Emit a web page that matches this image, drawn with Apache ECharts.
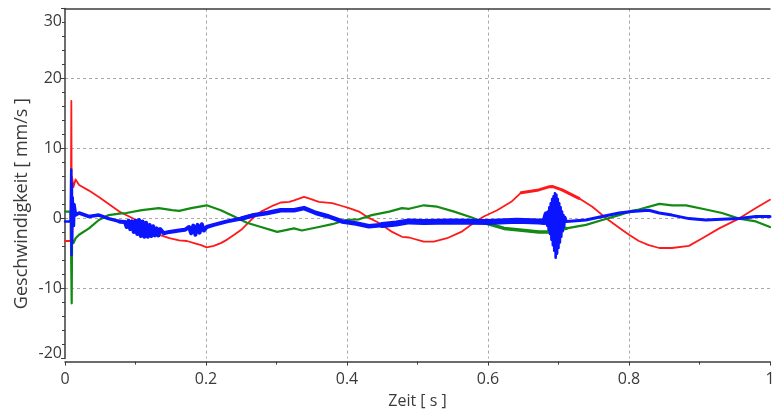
<!DOCTYPE html>
<html>
<head>
<meta charset="utf-8">
<script src="https://cdn.jsdelivr.net/npm/echarts@6/dist/echarts.min.js"></script>
<style>
  html, body { margin: 0; padding: 0; background: #ffffff; }
  #chart { width: 772px; height: 412px; }
</style>
</head>
<body>
<div id="chart"></div>
<script>
// Axis tick values
const xTicks = [0, 0.2, 0.4, 0.6, 0.8, 1];
const yTicks = [-20, -10, 0, 10, 20, 30];

// Velocity traces: [time in s, velocity in mm/s]
const redTrace = [
  [0, -3.2], [0.008, -3.2], [0.009, 16.8], [0.0095, 3.5], [0.010, 6.0], [0.012, 4.5],
  [0.015, 5.6], [0.020, 4.8], [0.034, 4.0], [0.048, 3.1], [0.062, 2.1], [0.077, 1.0],
  [0.091, 0.3], [0.101, -0.2], [0.119, -1.5], [0.133, -2.3], [0.148, -2.8], [0.162, -3.1],
  [0.173, -3.2], [0.183, -3.5], [0.193, -3.8], [0.201, -4.1], [0.211, -3.9], [0.221, -3.5],
  [0.230, -3.0], [0.240, -2.3], [0.250, -1.6], [0.257, -0.9], [0.268, 0.2], [0.278, 1.0],
  [0.296, 1.9], [0.306, 2.3], [0.318, 2.4], [0.325, 2.6], [0.339, 3.1], [0.346, 2.9],
  [0.360, 2.4], [0.379, 2.2], [0.393, 1.8], [0.403, 1.5], [0.417, 1.0], [0.431, 0.1],
  [0.445, -0.6], [0.464, -1.9], [0.478, -2.6], [0.488, -2.7], [0.509, -3.3], [0.523, -3.3],
  [0.542, -2.8], [0.562, -1.9], [0.580, -0.6], [0.594, 0.3], [0.613, 1.2], [0.633, 2.4],
  [0.647, 3.7], [0.672, 4.1], [0.685, 4.5], [0.691, 4.6], [0.697, 4.4], [0.705, 4.1],
  [0.729, 2.9], [0.748, 1.7], [0.767, 0.1], [0.786, -1.3], [0.800, -2.3], [0.814, -3.2],
  [0.828, -3.8], [0.843, -4.2], [0.861, -4.2], [0.885, -3.9], [0.904, -2.8], [0.928, -1.4],
  [0.956, 0.0], [0.980, 1.5], [1.0, 2.7]
];

const greenTrace = [
  [0, 1.0], [0.008, 1.0], [0.0095, -12.1], [0.010, -3.0], [0.012, -3.5], [0.015, -2.8],
  [0.020, -2.3], [0.034, -1.4], [0.048, -0.2], [0.062, 0.5], [0.077, 0.7], [0.087, 0.8],
  [0.109, 1.2], [0.133, 1.5], [0.152, 1.2], [0.162, 1.1], [0.179, 1.5], [0.201, 1.9],
  [0.221, 1.2], [0.240, 0.3], [0.258, -0.6], [0.278, -1.2], [0.301, -1.9], [0.325, -1.4],
  [0.336, -1.7], [0.360, -1.2], [0.379, -0.8], [0.399, -0.2], [0.417, -0.1], [0.435, 0.5],
  [0.460, 1.0], [0.478, 1.5], [0.488, 1.4], [0.509, 1.9], [0.528, 1.7], [0.552, 1.0],
  [0.576, 0.2], [0.599, -0.7], [0.623, -1.4], [0.641, -1.6], [0.672, -1.9], [0.687, -1.9],
  [0.711, -1.4], [0.739, -0.9], [0.762, -0.2], [0.786, 0.5], [0.804, 1.1], [0.814, 1.3],
  [0.843, 2.1], [0.861, 1.9], [0.881, 1.9], [0.909, 1.3], [0.932, 0.8], [0.956, 0.0],
  [0.980, -0.4], [1.0, -1.2]
];

const blueTrace = [
  [0, -0.4], [0.008, -0.4], [0.0088, 7.0], [0.0093, -5.2], [0.0098, 5.0], [0.0103, -3.5],
  [0.011, 3.0], [0.012, -1.0], [0.0128, 2.0], [0.015, 0.5], [0.020, 0.8], [0.034, 0.3],
  [0.048, 0.5], [0.062, 0.0], [0.077, -0.4], [0.085, -0.5], [0.0875, -1.2], [0.090, -0.3],
  [0.0925, -1.5], [0.095, -0.4], [0.0975, -1.9], [0.100, -0.3], [0.1025, -2.2], [0.105, -0.2],
  [0.1075, -2.5], [0.110, -0.4], [0.1125, -2.6], [0.115, -0.6], [0.1175, -2.6], [0.120, -0.9],
  [0.1225, -2.5], [0.125, -1.1], [0.1275, -2.4], [0.130, -1.4], [0.1325, -2.4], [0.135, -1.5],
  [0.140, -2.1], [0.148, -1.9], [0.162, -1.7], [0.170, -1.6], [0.176, -1.2], [0.179, -2.1],
  [0.182, -1.0], [0.185, -2.3], [0.188, -0.9], [0.191, -2.0], [0.194, -0.8], [0.197, -1.7],
  [0.201, -1.2], [0.211, -0.9], [0.230, -0.4], [0.250, 0.0], [0.268, 0.5], [0.287, 0.8],
  [0.306, 1.2], [0.325, 1.2], [0.339, 1.5], [0.356, 0.8], [0.374, 0.3], [0.393, -0.4],
  [0.413, -0.7], [0.431, -1.1], [0.450, -0.9], [0.470, -0.7], [0.488, -0.4], [0.509, -0.5],
  [0.550, -0.4], [0.600, -0.5], [0.641, -0.3], [0.672, -0.4], [0.680, -0.5], [0.683, 0.6],
  [0.684, -1.0], [0.685, 1.0], [0.686, -1.6], [0.687, 1.6], [0.688, -2.2], [0.689, 2.2],
  [0.690, -3.0], [0.691, 2.8], [0.692, -3.8], [0.693, 3.2], [0.694, -4.6], [0.695, 3.6],
  [0.696, -5.6], [0.697, 3.4], [0.698, -5.0], [0.699, 2.8], [0.700, -4.2], [0.701, 2.2],
  [0.702, -3.4], [0.703, 1.6], [0.704, -2.6], [0.705, 1.0], [0.706, -1.8], [0.707, 0.5],
  [0.708, -1.2], [0.709, 0.2], [0.711, -0.4], [0.739, -0.2], [0.762, 0.3], [0.786, 0.8],
  [0.804, 1.0], [0.828, 1.2], [0.843, 0.8], [0.861, 0.5], [0.885, 0.0], [0.909, -0.2],
  [0.932, -0.1], [0.956, 0.0], [0.980, 0.3], [1.0, 0.3]
];

const axisColor = '#3c3c3c';
const labelColor = '#3a3a3a';
const gridColor = '#a8a8a8';
const fontFamily = '"Open Sans", "Noto Sans", sans-serif';

const chart = echarts.init(document.getElementById('chart'), null, { renderer: 'canvas' });

// Stroke a trace piecewise so that noisy stretches get a wider pen.
// Each band: [t0, t1, width]; every piece also takes the neighbouring
// point on either side so the pieces join without gaps.
function tracePieces(data, color, bands) {
  return bands.map(([t0, t1, w]) => {
    let first = data.findIndex(p => p[0] >= t0);
    let last = data.length - 1;
    for (let i = data.length - 1; i >= 0; i--) {
      if (data[i][0] <= t1) { last = i; break; }
    }
    first = Math.max(0, first - 1);
    last = Math.min(data.length - 1, last + 1);
    return {
      type: 'line',
      data: data.slice(first, last + 1),
      showSymbol: false,
      symbol: 'none',
      animation: false,
      silent: true,
      lineStyle: { color: color, width: w, cap: 'round', join: 'round' }
    };
  });
}

const tickFont = { color: labelColor, fontSize: 16, fontFamily: fontFamily };

chart.setOption({
  animation: false,
  backgroundColor: '#ffffff',
  grid: { left: 65, right: 2, top: 8.6, bottom: 53.4, outerBoundsMode: 'none', containLabel: false },
  xAxis: [{
    type: 'value',
    min: xTicks[0],
    max: xTicks[xTicks.length - 1],
    interval: 0.2,
    offset: 3,
    name: 'Zeit [ s ]',
    nameLocation: 'middle',
    nameGap: 32,
    nameTextStyle: tickFont,
    axisLine: { show: true, onZero: false, lineStyle: { color: axisColor, width: 1.5 } },
    axisTick: { show: true, inside: false, length: 4, lineStyle: { color: axisColor } },
    minorTick: { show: true, splitNumber: 2, length: 3, lineStyle: { color: axisColor } },
    axisLabel: Object.assign({ margin: 10, formatter: v => String(v) }, tickFont),
    splitLine: {
      show: true, showMinLine: false, showMaxLine: false,
      lineStyle: { color: gridColor, type: [3, 3], width: 1 }
    }
  }, {
    type: 'value',
    position: 'top',
    min: 0, max: 1,
    axisLine: { show: true, onZero: false, lineStyle: { color: axisColor, width: 1.5 } },
    axisTick: { show: false },
    axisLabel: { show: false },
    splitLine: { show: false }
  }],
  yAxis: {
    type: 'value',
    min: yTicks[0],
    max: yTicks[yTicks.length - 1],
    interval: 10,
    axisLine: { show: true, onZero: false, lineStyle: { color: axisColor, width: 1.5 } },
    axisTick: { show: true, inside: false, length: 4, lineStyle: { color: axisColor } },
    minorTick: { show: true, splitNumber: 5, length: 3, lineStyle: { color: axisColor } },
    axisLabel: Object.assign({
      margin: 3,
      verticalAlignMaxLabel: 'top',
      formatter: v => v === yTicks[yTicks.length - 1] ? '{hi|' + v + '}'
        : v === yTicks[0] ? '{lo|' + v + '}' : String(v),
      rich: {
        hi: Object.assign({ padding: [5, 0, 0, 0] }, tickFont),
        lo: Object.assign({ padding: [0, 0, 10, 0] }, tickFont)
      }
    }, tickFont),
    splitLine: {
      show: true, showMinLine: false, showMaxLine: false,
      lineStyle: { color: gridColor, type: [3, 3], width: 1 }
    }
  },
  graphic: [{
    type: 'text',
    left: 13,
    top: 98,
    rotation: Math.PI / 2,
    style: {
      text: 'Geschwindigkeit [ mm/s ]',
      fill: labelColor,
      font: '18px ' + fontFamily
    }
  }],
  series: [].concat(
    tracePieces(redTrace, '#ff1a1a', [[0, 0.67, 1.8], [0.672, 0.705, 3], [0.706, 1, 1.8]]),
    tracePieces(greenTrace, '#138a13', [[0, 0.62, 2.2], [0.623, 0.687, 3.5], [0.688, 1, 2.2]]),
    tracePieces(blueTrace, '#0a14ff', [
      [0, 0.012, 2.5], [0.0128, 0.077, 3.5], [0.085, 0.25, 4], [0.251, 0.45, 4.5],
      [0.451, 0.68, 6], [0.683, 0.709, 2.6], [0.711, 1, 3]
    ])
  )
});
</script>
</body>
</html>
